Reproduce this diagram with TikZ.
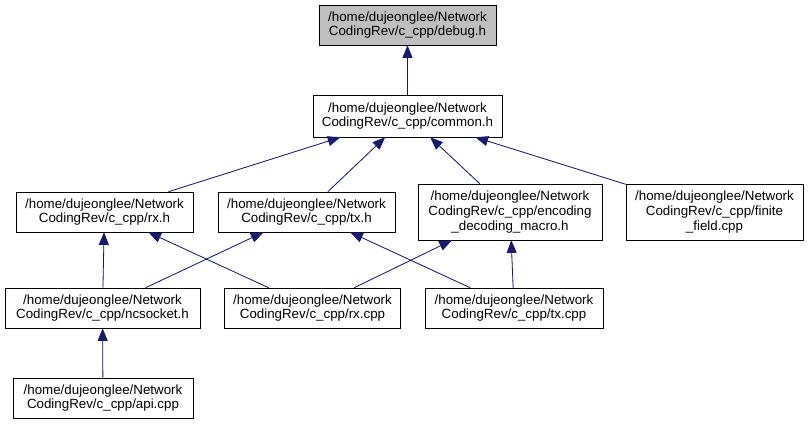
\documentclass[tikz,border=0pt]{standalone}
\usepackage{fontspec}
\setmainfont{Liberation Sans}
\usetikzlibrary{arrows.meta}

\definecolor{edgeblue}{RGB}{25,25,112}
\definecolor{rootgray}{RGB}{191,191,191}

\begin{document}
\begin{tikzpicture}[x=0.75pt, y=-0.75pt, >={Triangle[length=9.5pt, width=7.5pt]},
    file/.style={draw=black, thin, align=center, inner sep=0pt,
      font=\fontsize{10}{11}\selectfont, minimum height=30pt},
    incl/.style={<-, draw=edgeblue, fill=edgeblue, semithick}]
      \useasboundingbox (0,0) rectangle (809,424);

      % root
      \node[file, fill=rootgray, minimum width=132.75pt] (debug) at (407.5,25) {/home/dujeonglee/Network\\CodingRev/c\_cpp/debug.h};
      \node[file, minimum width=141.75pt, minimum height=31.5pt] (common) at (407.5,116) {/home/dujeonglee/Network\\CodingRev/c\_cpp/common.h};

      % second level
      \node[file, minimum width=132.75pt] (rx_h) at (104.5,212) {/home/dujeonglee/Network\\CodingRev/c\_cpp/rx.h};
      \node[file, minimum width=132.75pt] (tx_h) at (306.5,212) {/home/dujeonglee/Network\\CodingRev/c\_cpp/tx.h};
      \node[file, minimum width=138pt, minimum height=42pt] (enc_h) at (510,212) {/home/dujeonglee/Network\\CodingRev/c\_cpp/encoding\\\_decoding\_macro.h};
      \node[file, minimum width=132.75pt, minimum height=42pt] (ff_cpp) at (714.5,212) {/home/dujeonglee/Network\\CodingRev/c\_cpp/finite\\\_field.cpp};

      % third level
      \node[file, minimum width=146.25pt] (ncs_h) at (102.5,308) {/home/dujeonglee/Network\\CodingRev/c\_cpp/ncsocket.h};
      \node[file, minimum width=132pt] (rx_cpp) at (312.5,308) {/home/dujeonglee/Network\\CodingRev/c\_cpp/rx.cpp};
      \node[file, minimum width=133.5pt] (tx_cpp) at (514,308) {/home/dujeonglee/Network\\CodingRev/c\_cpp/tx.cpp};

      % bottom
      \node[file, minimum width=135pt] (api_cpp) at (103,398) {/home/dujeonglee/Network\\CodingRev/c\_cpp/api.cpp};

      % include edges
      \draw[incl] (debug) -- (common);
      \foreach \src in {rx_h, tx_h, enc_h, ff_cpp} {
        \draw[incl] (common) -- (\src);
      }
      \draw[incl] (rx_h) -- (ncs_h);
      \draw[incl] (tx_h) -- (ncs_h);
      \draw[incl] (rx_h) -- (rx_cpp);
      \draw[incl] (enc_h) -- (rx_cpp);
      \draw[incl] (tx_h) -- (tx_cpp);
      \draw[incl] (enc_h) -- (tx_cpp);
      \draw[incl] (ncs_h) -- (api_cpp);

    \end{tikzpicture}
\end{document}
